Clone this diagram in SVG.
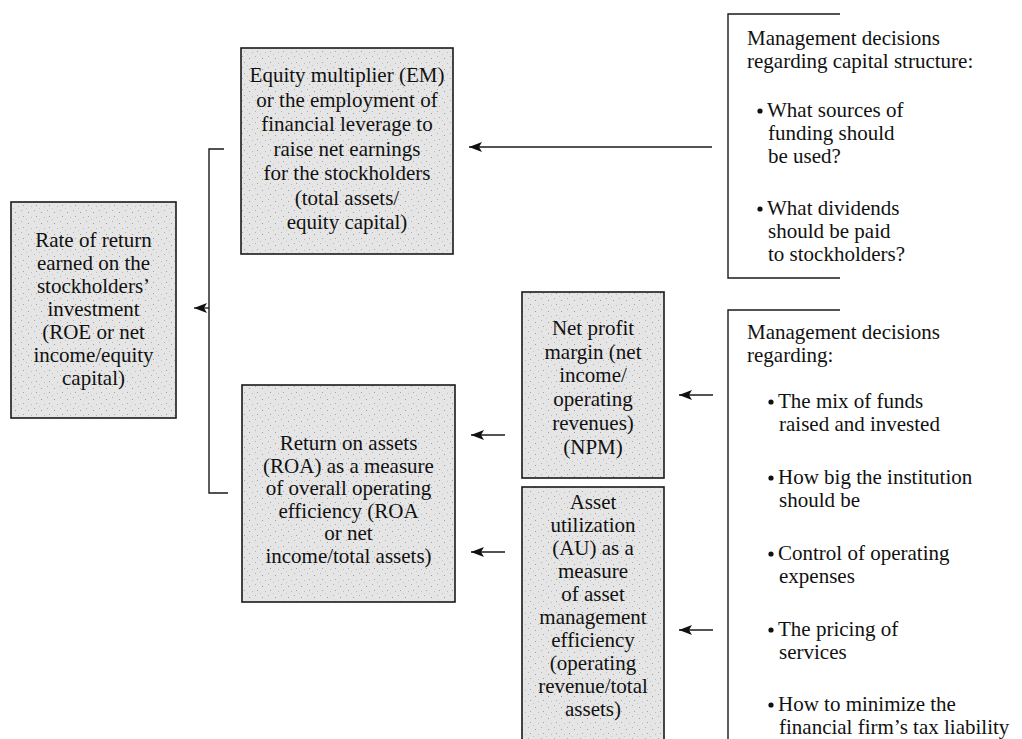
<svg xmlns="http://www.w3.org/2000/svg" width="1022" height="739" viewBox="0 0 1022 739">
  <defs>
    <!-- speckled grey fill for the ratio boxes -->
    <pattern id="stipple" width="13" height="11" patternUnits="userSpaceOnUse">
      <rect width="13" height="11" fill="#e5e5e5"/>
      <rect x="2" y="3" width="1" height="1" fill="#9c9c9c"/>
      <rect x="8" y="1" width="1" height="1" fill="#b0b0b0"/>
      <rect x="10" y="7" width="1" height="1" fill="#a4a4a4"/>
      <rect x="5" y="8" width="1" height="1" fill="#bcbcbc"/>
      <rect x="0" y="10" width="1" height="1" fill="#c4c4c4"/>
    </pattern>
    <marker id="arrow" markerUnits="userSpaceOnUse" markerWidth="14" markerHeight="10" refX="13" refY="5" orient="auto">
      <path d="M0,0 L13,5 L0,10 L3,5 Z" fill="#111"/>
    </marker>
  </defs>
  <style>
    .box { fill: url(#stipple); stroke: #1a1a1a; stroke-width: 1.6; }
    .t { font-family: "Liberation Serif", "Times New Roman", serif; font-size: 21px; fill: #111; }
    .c { text-anchor: middle; }
    .ln { stroke: #1a1a1a; stroke-width: 1.4; fill: none; }
    .ar { stroke: #1a1a1a; stroke-width: 1.3; fill: none; marker-end: url(#arrow); }
    .dot { fill: #111; }
  </style>
  <rect width="1022" height="739" fill="#ffffff"/>

  <g id="roe">
    <rect class="box" x="11" y="202" width="165" height="216"/>
    <text class="t c" x="93.5" y="247">Rate of return</text>
    <text class="t c" x="93.5" y="270">earned on the</text>
    <text class="t c" x="93.5" y="293">stockholders’</text>
    <text class="t c" x="93.5" y="316">investment</text>
    <text class="t c" x="93.5" y="339">(ROE or net</text>
    <text class="t c" x="93.5" y="362">income/equity</text>
    <text class="t c" x="93.5" y="385">capital)</text>
  </g>

  <g id="em">
    <rect class="box" x="241" y="48" width="212" height="206"/>
    <text class="t c" x="347" y="82">Equity multiplier (EM)</text>
    <text class="t c" x="347" y="106.5">or the employment of</text>
    <text class="t c" x="347" y="131">financial leverage to</text>
    <text class="t c" x="347" y="155.5">raise net earnings</text>
    <text class="t c" x="347" y="180">for the stockholders</text>
    <text class="t c" x="347" y="204.5">(total assets/</text>
    <text class="t c" x="347" y="229">equity capital)</text>
  </g>

  <g id="roa">
    <rect class="box" x="242" y="385" width="213" height="217"/>
    <text class="t c" x="348.5" y="450">Return on assets</text>
    <text class="t c" x="348.5" y="472.5">(ROA) as a measure</text>
    <text class="t c" x="348.5" y="495">of overall operating</text>
    <text class="t c" x="348.5" y="517.5">efficiency (ROA</text>
    <text class="t c" x="348.5" y="540">or net</text>
    <text class="t c" x="348.5" y="562.5">income/total assets)</text>
  </g>

  <g id="npm">
    <rect class="box" x="522" y="292" width="142" height="186"/>
    <text class="t c" x="593" y="335">Net profit</text>
    <text class="t c" x="593" y="358.7">margin (net</text>
    <text class="t c" x="593" y="382.4">income/</text>
    <text class="t c" x="593" y="406.1">operating</text>
    <text class="t c" x="593" y="429.8">revenues)</text>
    <text class="t c" x="593" y="453.5">(NPM)</text>
  </g>

  <g id="au">
    <rect class="box" x="522" y="487" width="142" height="262"/>
    <text class="t c" x="593" y="509">Asset</text>
    <text class="t c" x="593" y="532">utilization</text>
    <text class="t c" x="593" y="555">(AU) as a</text>
    <text class="t c" x="593" y="578">measure</text>
    <text class="t c" x="593" y="601">of asset</text>
    <text class="t c" x="593" y="624">management</text>
    <text class="t c" x="593" y="647">efficiency</text>
    <text class="t c" x="593" y="670">(operating</text>
    <text class="t c" x="593" y="693">revenue/total</text>
    <text class="t c" x="593" y="716">assets)</text>
  </g>

  <g id="capital-structure">
    <path class="ln" d="M840,14 H728 V278 H840"/>
    <text class="t" x="747" y="45">Management decisions</text>
    <text class="t" x="747" y="68">regarding capital structure:</text>
    <circle class="dot" cx="760" cy="111" r="2.6"/>
    <text class="t" x="767" y="117">What sources of</text>
    <text class="t" x="768" y="140">funding should</text>
    <text class="t" x="768" y="163">be used?</text>
    <circle class="dot" cx="760" cy="209" r="2.6"/>
    <text class="t" x="767" y="215">What dividends</text>
    <text class="t" x="768" y="238">should be paid</text>
    <text class="t" x="768" y="261">to stockholders?</text>
  </g>

  <g id="operations">
    <path class="ln" d="M840,310 H728 V745"/>
    <text class="t" x="747" y="339">Management decisions</text>
    <text class="t" x="747" y="362">regarding:</text>
    <circle class="dot" cx="771" cy="402" r="2.6"/>
    <text class="t" x="778" y="408">The mix of funds</text>
    <text class="t" x="779" y="431">raised and invested</text>
    <circle class="dot" cx="771" cy="478" r="2.6"/>
    <text class="t" x="778" y="484">How big the institution</text>
    <text class="t" x="779" y="507">should be</text>
    <circle class="dot" cx="771" cy="554" r="2.6"/>
    <text class="t" x="778" y="560">Control of operating</text>
    <text class="t" x="779" y="583">expenses</text>
    <circle class="dot" cx="771" cy="630" r="2.6"/>
    <text class="t" x="778" y="636">The pricing of</text>
    <text class="t" x="779" y="659">services</text>
    <circle class="dot" cx="771" cy="705" r="2.6"/>
    <text class="t" x="778" y="711">How to minimize the</text>
    <text class="t" x="779" y="734">financial firm’s tax liability</text>
  </g>

  <g id="connectors">
    <!-- bracket joining EM and ROA into ROE -->
    <path class="ln" d="M224,149 H209 V493 H228"/>
    <line class="ar" x1="209" y1="308" x2="194" y2="308"/>
    <!-- capital structure decisions feed EM -->
    <line class="ar" x1="712" y1="147" x2="469" y2="147"/>
    <!-- NPM and AU feed ROA -->
    <line class="ar" x1="505" y1="435" x2="471" y2="435"/>
    <line class="ar" x1="505" y1="552" x2="471" y2="552"/>
    <!-- operating decisions feed NPM and AU -->
    <line class="ar" x1="713" y1="395" x2="679" y2="395"/>
    <line class="ar" x1="713" y1="630" x2="679" y2="630"/>
  </g>
</svg>
